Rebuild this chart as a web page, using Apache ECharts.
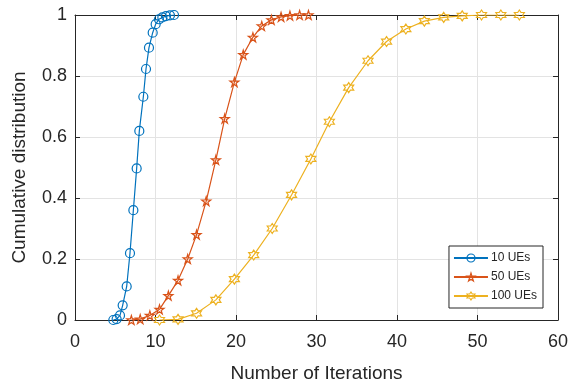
<!DOCTYPE html>
<html>
<head>
<meta charset="utf-8">
<script src="https://cdn.jsdelivr.net/npm/echarts@6/dist/echarts.min.js"></script>
<style>
  html, body { margin: 0; padding: 0; background: #fff; }
  #chart { width: 573px; height: 388px; }
</style>
</head>
<body>
<div id="chart"></div>
<script>
const ue10X = [4.76, 5.17, 5.59, 5.92, 6.42, 6.83, 7.25, 7.66, 7.99, 8.49, 8.82, 9.19, 9.65, 10.02, 10.43, 10.85, 11.3, 11.8, 12.3];
const ue10Y = [0, 0.003, 0.015, 0.048, 0.11, 0.219, 0.36, 0.497, 0.62, 0.732, 0.823, 0.893, 0.942, 0.97, 0.986, 0.992, 0.996, 0.999, 1];

const ue50X = [7.0, 8.1, 9.3, 10.5, 11.6, 12.8, 14.0, 15.1, 16.3, 17.5, 18.6, 19.8, 20.9, 22.1, 23.2, 24.4, 25.6, 26.7, 27.9, 29.0];
const ue50Y = [0, 0.003, 0.015, 0.035, 0.08, 0.13, 0.2, 0.28, 0.39, 0.525, 0.66, 0.78, 0.87, 0.927, 0.964, 0.984, 0.994, 0.998, 1, 1];

const ue100X = [10.5, 12.8, 15.1, 17.5, 19.8, 22.2, 24.5, 26.9, 29.3, 31.6, 34.0, 36.4, 38.7, 41.1, 43.4, 45.8, 48.1, 50.5, 52.9, 55.2];
const ue100Y = [0, 0.002, 0.022, 0.066, 0.134, 0.213, 0.30, 0.41, 0.528, 0.65, 0.762, 0.85, 0.913, 0.954, 0.98, 0.992, 0.997, 1, 1, 1];

const seriesNames = ['10 UEs', '50 UEs', '100 UEs'];
const xTicks = [0, 10, 20, 30, 40, 50, 60];
const yTicks = [0, 0.2, 0.4, 0.6, 0.8, 1];

const colors = ['#0072BD', '#D95319', '#EDB120'];
const textColor = '#262626';

const pentagram = 'path://M50,0 L61,35 L98,35 L68,57 L79,91 L50,70 L21,91 L32,57 L2,35 L39,35 Z';
const hexagram = 'path://M50,0 L64.4,25 L93.3,25 L78.9,50 L93.3,75 L64.4,75 L50,100 L35.6,75 L6.7,75 L21.1,50 L6.7,25 L35.6,25 Z';

const zip = (xs, ys) => xs.map((x, i) => [x, ys[i]]);

const myChart = echarts.init(document.getElementById('chart'));

const baseAxis = {
    axisLine: { show: true, onZero: false, lineStyle: { color: textColor, width: 1 } },
    axisTick: { show: true, inside: true, length: 5, lineStyle: { color: textColor } },
};

// 空心标记
const hollow = (c) => ({ color: 'rgba(255,255,255,0)', borderColor: c, borderWidth: 1.2 });

myChart.setOption({
    animation: false,
    textStyle: { fontFamily: 'Liberation Sans, Arial, sans-serif' },
    grid: { left: 75, right: 15, top: 15, bottom: 68 },
    legend: {
        data: seriesNames.map((n, i) => ({ name: n, itemStyle: hollow(colors[i]) })),
        orient: 'vertical',
        right: 30,
        top: 246,
        itemGap: 7,
        itemWidth: 34,
        itemHeight: 10,
        padding: [6, 6, 6, 4],
        backgroundColor: '#fff',
        borderColor: textColor,
        borderWidth: 1,
        borderRadius: 0,
        textStyle: { fontSize: 12, color: textColor, padding: [0, 0, 0, -2] },
    },
    xAxis: [
        {
            ...baseAxis,
            type: 'value',
            min: xTicks[0],
            max: xTicks[xTicks.length - 1],
            interval: 10,
            name: 'Number of Iterations',
            nameLocation: 'middle',
            nameGap: 44,
            nameTextStyle: { fontSize: 19, color: textColor },
            axisLabel: { fontSize: 18, color: textColor, margin: 13 },
            splitLine: { show: true, lineStyle: { color: '#e3e3e3' } },
        },
        {
            ...baseAxis,
            type: 'value',
            position: 'top',
            min: xTicks[0],
            max: xTicks[xTicks.length - 1],
            interval: 10,
            axisLabel: { show: false },
            splitLine: { show: false },
        },
    ],
    yAxis: [
        {
            ...baseAxis,
            type: 'value',
            min: yTicks[0],
            max: yTicks[yTicks.length - 1],
            interval: 0.2,
            name: 'Cumulative distribution',
            nameLocation: 'middle',
            nameGap: 46,
            nameTextStyle: { fontSize: 19, color: textColor },
            axisLabel: { fontSize: 18, color: textColor, margin: 8 },
            splitLine: { show: true, lineStyle: { color: '#e3e3e3' } },
        },
        {
            ...baseAxis,
            type: 'value',
            position: 'right',
            min: yTicks[0],
            max: yTicks[yTicks.length - 1],
            interval: 0.2,
            axisLabel: { show: false },
            splitLine: { show: false },
        },
    ],
    series: [
        {
            name: seriesNames[0],
            type: 'line',
            data: zip(ue10X, ue10Y),
            symbol: 'circle',
            symbolSize: 9,
            lineStyle: { color: colors[0], width: 1.2 },
            itemStyle: hollow(colors[0]),
        },
        {
            name: seriesNames[1],
            type: 'line',
            data: zip(ue50X, ue50Y),
            symbol: pentagram,
            symbolSize: 9,
            lineStyle: { color: colors[1], width: 1.2 },
            itemStyle: hollow(colors[1]),
        },
        {
            name: seriesNames[2],
            type: 'line',
            data: zip(ue100X, ue100Y),
            symbol: hexagram,
            symbolSize: 10,
            lineStyle: { color: colors[2], width: 1.2 },
            itemStyle: hollow(colors[2]),
        },
    ],
});
</script>
</body>
</html>
